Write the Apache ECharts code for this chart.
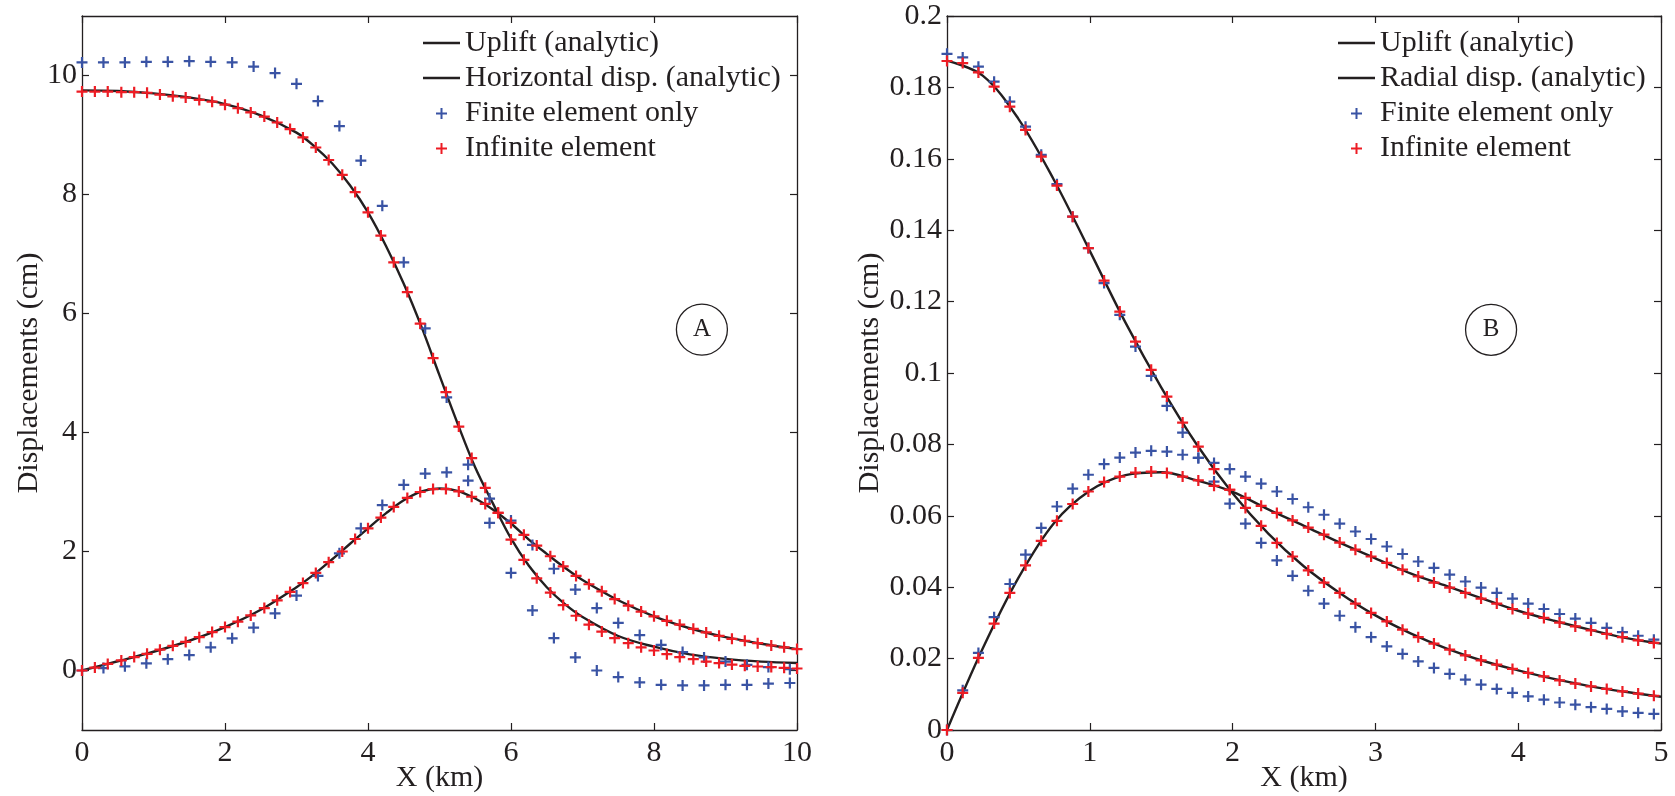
<!DOCTYPE html>
<html>
<head>
<meta charset="utf-8">
<script src="https://cdn.jsdelivr.net/npm/echarts@6/dist/echarts.min.js"></script>
<style>
html,body{margin:0;padding:0;background:#fff;}
#chart{width:1675px;height:796px;}
</style>
</head>
<body>
<div id="chart"></div>
<script>
// ---------------- Panel A data ----------------
const xRedA = [0,0.18,0.36,0.55,0.73,0.91,1.09,1.27,1.45,1.64,1.82,2.00,2.18,2.36,2.55,2.73,2.91,3.09,3.27,3.45,3.64,3.82,4.00,4.18,4.36,4.55,4.73,4.91,5.09,5.27,5.45,5.64,5.82,6.00,6.18,6.36,6.55,6.73,6.91,7.09,7.27,7.45,7.64,7.82,8.00,8.18,8.36,8.55,8.73,8.91,9.09,9.27,9.45,9.64,9.82,10.00];
const upRedA = [9.73,9.73,9.73,9.72,9.72,9.71,9.68,9.65,9.63,9.59,9.56,9.51,9.45,9.38,9.31,9.21,9.10,8.96,8.79,8.58,8.33,8.04,7.70,7.31,6.86,6.36,5.83,5.25,4.68,4.10,3.57,3.07,2.65,2.20,1.86,1.55,1.31,1.10,0.92,0.77,0.655,0.545,0.46,0.39,0.336,0.275,0.225,0.19,0.15,0.124,0.10,0.079,0.067,0.057,0.045,0.034];
const horRedA = [0,0.05,0.11,0.17,0.225,0.28,0.35,0.415,0.48,0.56,0.645,0.73,0.82,0.925,1.05,1.18,1.32,1.47,1.64,1.82,2.00,2.21,2.39,2.57,2.75,2.90,3.00,3.05,3.05,3.01,2.92,2.80,2.65,2.48,2.28,2.10,1.92,1.75,1.59,1.45,1.33,1.20,1.09,0.99,0.91,0.835,0.77,0.70,0.64,0.583,0.533,0.50,0.46,0.42,0.39,0.36];
const xBlueA = [0,0.3,0.6,0.9,1.2,1.5,1.8,2.1,2.4,2.7,3.0,3.3,3.6,3.9,4.2,4.5,4.8,5.1,5.4,5.7,6.0,6.3,6.6,6.9,7.2,7.5,7.8,8.1,8.4,8.7,9.0,9.3,9.6,9.9];
const upBlueA = [10.22,10.22,10.22,10.23,10.23,10.24,10.23,10.22,10.15,10.04,9.86,9.57,9.15,8.57,7.81,6.86,5.75,4.59,3.46,2.48,1.64,1.01,0.545,0.22,0.0,-0.11,-0.20,-0.24,-0.25,-0.25,-0.24,-0.24,-0.22,-0.21];
const horBlueA = [0,0.04,0.07,0.12,0.19,0.26,0.39,0.54,0.72,0.96,1.26,1.59,1.97,2.39,2.78,3.12,3.31,3.33,3.19,2.89,2.52,2.11,1.71,1.36,1.05,0.80,0.595,0.43,0.31,0.22,0.15,0.096,0.057,0.023];
const xLineA = [0,0.5,1,1.5,2,2.5,3,3.25,3.5,3.75,4,4.25,4.5,4.75,5,5.25,5.5,5.75,6,6.25,6.5,6.75,7,7.5,8,8.5,9,9.5,10];
const upLineA = [9.75,9.74,9.70,9.63,9.52,9.33,9.04,8.81,8.52,8.15,7.70,7.14,6.50,5.77,4.96,4.16,3.41,2.80,2.22,1.76,1.40,1.12,0.90,0.58,0.40,0.27,0.195,0.15,0.125];
const horLineA = [0,0.155,0.315,0.50,0.73,1.02,1.40,1.62,1.87,2.13,2.39,2.64,2.86,3.01,3.06,3.02,2.89,2.70,2.47,2.20,1.96,1.73,1.52,1.18,0.91,0.71,0.56,0.45,0.36];
const xTicksA = [0,2,4,6,8,10];
const yTicksA = [0,2,4,6,8,10];
const labelA = [8.67, 5.73];

// ---------------- Panel B data ----------------
const xPtsB = [0,0.11,0.22,0.33,0.44,0.55,0.66,0.77,0.88,0.99,1.10,1.21,1.32,1.43,1.54,1.65,1.76,1.87,1.98,2.09,2.20,2.31,2.42,2.53,2.64,2.75,2.86,2.97,3.08,3.19,3.30,3.41,3.52,3.63,3.74,3.85,3.96,4.07,4.18,4.29,4.40,4.51,4.62,4.73,4.84,4.95];
const upRedB = [0.1874,0.1868,0.1842,0.1802,0.1746,0.1681,0.1606,0.1525,0.1438,0.1350,0.1259,0.1172,0.1088,0.1009,0.0934,0.0861,0.0794,0.0731,0.0673,0.0622,0.0572,0.0524,0.0486,0.0447,0.0413,0.0384,0.0354,0.0328,0.0304,0.0281,0.0260,0.0242,0.0225,0.0209,0.0195,0.0183,0.0171,0.0160,0.0150,0.0139,0.0130,0.0122,0.0115,0.0108,0.0102,0.0096];
const radRedB = [0,0.0104,0.0202,0.0298,0.0384,0.0461,0.0530,0.0586,0.0633,0.0668,0.0695,0.0710,0.0721,0.0724,0.0720,0.0710,0.0699,0.0684,0.0673,0.0650,0.0628,0.0608,0.0587,0.0567,0.0547,0.0525,0.0505,0.0486,0.0468,0.0449,0.0430,0.0413,0.0399,0.0384,0.0368,0.0354,0.0339,0.0326,0.0314,0.0301,0.0290,0.0279,0.0269,0.0260,0.0251,0.0244];
const upBlueB = [0.1894,0.1884,0.1858,0.1816,0.1760,0.1690,0.1611,0.1529,0.1438,0.1350,0.1252,0.1163,0.1074,0.0992,0.0908,0.0833,0.0762,0.0696,0.0634,0.0578,0.0524,0.0475,0.0432,0.0390,0.0354,0.0320,0.0288,0.0260,0.0234,0.0213,0.0192,0.0174,0.0157,0.0141,0.0127,0.0115,0.0104,0.0094,0.0085,0.0077,0.0071,0.0064,0.0059,0.0052,0.0048,0.0045];
const radBlueB = [0,0.0111,0.0216,0.0316,0.0409,0.0491,0.0566,0.0626,0.0676,0.0715,0.0745,0.0763,0.0777,0.0782,0.0780,0.0771,0.0762,0.0748,0.0731,0.0710,0.0690,0.0668,0.0647,0.0624,0.0603,0.0578,0.0556,0.0535,0.0514,0.0493,0.0472,0.0454,0.0435,0.0416,0.0399,0.0384,0.0368,0.0354,0.0339,0.0325,0.0312,0.0300,0.0286,0.0274,0.0264,0.0253];
const xLineB = [0,0.25,0.5,0.75,1,1.25,1.5,1.75,2,2.25,2.5,2.75,3,3.25,3.5,3.75,4,4.25,4.5,4.75,5];
const upLineB = [0.1875,0.1833,0.1712,0.1540,0.1342,0.1141,0.0960,0.0799,0.0663,0.0550,0.0458,0.0384,0.0321,0.0270,0.0228,0.0194,0.0167,0.0143,0.0123,0.0107,0.0093];
const radLineB = [0,0.0228,0.0426,0.0580,0.0670,0.0714,0.0722,0.0699,0.0667,0.0618,0.0572,0.0525,0.0481,0.0438,0.0403,0.0368,0.0334,0.0306,0.0281,0.0258,0.0242];
const labelB = [3.81, 0.1121];

// ---------------- styling ----------------
const FONT = 'Liberation Serif';
const INK = '#231f20';
const RED = '#ed1c24';
const BLUE = '#3953a4';
const PLUS = 'path://M4,0h2v4h4v2h-4v4h-2v-4h-4v-2h4z';
const LINE_ICON = 'path://M0,0M37,14M0,5.8h37v2.4h-37z';
const PLUS_ICON = 'path://M0,0M37,14M17.5,2h2v4.5h4.5v2h-4.5v4.5h-2v-4.5h-4.5v-2h4.5z';

const pairs = (xs, ys) => xs.map((x, i) => [x, ys[i]]);

function lineSeries(name, xi, yi, xs, ys, extra) {
  return Object.assign({
    name, type: 'line', xAxisIndex: xi, yAxisIndex: yi, data: pairs(xs, ys),
    smooth: 0.35, symbol: 'none', z: 2,
    itemStyle: {color: INK}, lineStyle: {color: INK, width: 2.4}
  }, extra || {});
}
function plusSeries(name, xi, yi, xs, ys, color, z) {
  return {
    name, type: 'scatter', xAxisIndex: xi, yAxisIndex: yi, data: pairs(xs, ys),
    symbol: PLUS, symbolSize: 11, itemStyle: {color: color, opacity: 1}, z: z
  };
}
function circleMark(coord, text) {
  return {
    symbol: 'circle', symbolSize: 51, silent: true,
    itemStyle: {color: 'rgba(0,0,0,0)', borderColor: INK, borderWidth: 1.3},
    label: {show: true, position: 'inside', formatter: text, color: INK, fontFamily: FONT, fontSize: 25},
    data: [{coord: coord, value: text}]
  };
}

const tickLabel = {color: INK, fontFamily: FONT, fontSize: 30};
function mainX(grid, max, interval) {
  return {
    gridIndex: grid, type: 'value', position: 'bottom', min: 0, max: max, interval: interval,
    name: 'X (km)', nameLocation: 'middle', nameGap: 33, nameMoveOverlap: false,
    nameTextStyle: {color: INK, fontFamily: FONT, fontSize: 30},
    axisLine: {show: true, onZero: false, lineStyle: {color: INK, width: 1.3}},
    axisTick: {show: true, inside: true, length: 7, lineStyle: {color: INK, width: 1.2}},
    axisLabel: Object.assign({margin: 8}, tickLabel),
    splitLine: {show: false}
  };
}
function topX(grid, max, interval) {
  return {
    gridIndex: grid, type: 'value', position: 'top', min: 0, max: max, interval: interval,
    axisLine: {show: true, onZero: false, lineStyle: {color: INK, width: 1.3}},
    axisTick: {show: true, inside: true, length: 7, lineStyle: {color: INK, width: 1.2}},
    axisLabel: {show: false}, splitLine: {show: false}
  };
}

const option = {
  animation: false,
  backgroundColor: '#ffffff',
  grid: [
    {left: 82, top: 16, width: 715, height: 714, containLabel: false, outerBoundsMode: 'none'},
    {left: 947, top: 16, width: 714, height: 714, containLabel: false, outerBoundsMode: 'none'}
  ],
  xAxis: [
    mainX(0, 10, 2), topX(0, 10, 2),
    mainX(1, 5, 1), topX(1, 5, 1)
  ],
  yAxis: [
    {
      gridIndex: 0, type: 'value', position: 'left', min: -1, max: 11,
      name: 'Displacements (cm)', nameLocation: 'middle', nameGap: 38, nameMoveOverlap: false,
      nameTextStyle: {color: INK, fontFamily: FONT, fontSize: 30},
      axisLine: {show: true, onZero: false, lineStyle: {color: INK, width: 1.3}},
      axisTick: {show: true, inside: true, length: 7, customValues: yTicksA, lineStyle: {color: INK, width: 1.2}},
      axisLabel: Object.assign({margin: 5, customValues: yTicksA}, tickLabel),
      splitLine: {show: false}
    },
    {
      gridIndex: 0, type: 'value', position: 'right', min: -1, max: 11,
      axisLine: {show: true, onZero: false, lineStyle: {color: INK, width: 1.3}},
      axisTick: {show: true, inside: true, length: 7, customValues: yTicksA, lineStyle: {color: INK, width: 1.2}},
      axisLabel: {show: false}, splitLine: {show: false}
    },
    {
      gridIndex: 1, type: 'value', position: 'left', min: 0, max: 0.2, interval: 0.02,
      name: 'Displacements (cm)', nameLocation: 'middle', nameGap: 62, nameMoveOverlap: false,
      nameTextStyle: {color: INK, fontFamily: FONT, fontSize: 30},
      axisLine: {show: true, onZero: false, lineStyle: {color: INK, width: 1.3}},
      axisTick: {show: true, inside: true, length: 7, lineStyle: {color: INK, width: 1.2}},
      axisLabel: Object.assign({margin: 5}, tickLabel),
      splitLine: {show: false}
    },
    {
      gridIndex: 1, type: 'value', position: 'right', min: 0, max: 0.2, interval: 0.02,
      axisLine: {show: true, onZero: false, lineStyle: {color: INK, width: 1.3}},
      axisTick: {show: true, inside: true, length: 7, lineStyle: {color: INK, width: 1.2}},
      axisLabel: {show: false}, splitLine: {show: false}
    }
  ],
  legend: [
    {
      left: 423, top: 25.5, orient: 'vertical', padding: 0, itemGap: 0,
      itemWidth: 37, itemHeight: 14, selectedMode: false,
      textStyle: {color: INK, fontFamily: FONT, fontSize: 30, lineHeight: 35},
      data: [
        {name: 'Uplift (analytic)', icon: LINE_ICON},
        {name: 'Horizontal disp. (analytic)', icon: LINE_ICON},
        {name: 'Finite element only', icon: PLUS_ICON},
        {name: 'Infinite element', icon: PLUS_ICON}
      ]
    },
    {
      left: 1338, top: 25.5, orient: 'vertical', padding: 0, itemGap: 0,
      itemWidth: 37, itemHeight: 14, selectedMode: false,
      textStyle: {color: INK, fontFamily: FONT, fontSize: 30, lineHeight: 35},
      data: [
        {name: 'Uplift (analytic)', icon: LINE_ICON},
        {name: 'Radial disp. (analytic)', icon: LINE_ICON},
        {name: 'Finite element only', icon: PLUS_ICON},
        {name: 'Infinite element', icon: PLUS_ICON}
      ]
    }
  ],
  series: [
    lineSeries('Uplift (analytic)', 0, 0, xLineA, upLineA, {markPoint: circleMark(labelA, 'A')}),
    lineSeries('Horizontal disp. (analytic)', 0, 0, xLineA, horLineA),
    plusSeries('Finite element only', 0, 0, xBlueA, upBlueA, BLUE, 3),
    plusSeries('Finite element only', 0, 0, xBlueA, horBlueA, BLUE, 3),
    plusSeries('Infinite element', 0, 0, xRedA, upRedA, RED, 4),
    plusSeries('Infinite element', 0, 0, xRedA, horRedA, RED, 4),

    lineSeries('Uplift (analytic)', 2, 2, xLineB, upLineB, {markPoint: circleMark(labelB, 'B')}),
    lineSeries('Radial disp. (analytic)', 2, 2, xLineB, radLineB),
    plusSeries('Finite element only', 2, 2, xPtsB, upBlueB, BLUE, 3),
    plusSeries('Finite element only', 2, 2, xPtsB, radBlueB, BLUE, 3),
    plusSeries('Infinite element', 2, 2, xPtsB, upRedB, RED, 4),
    plusSeries('Infinite element', 2, 2, xPtsB, radRedB, RED, 4)
  ]
};

const chart = echarts.init(document.getElementById('chart'), null, {renderer: 'canvas'});
chart.setOption(option);
</script>
</body>
</html>
